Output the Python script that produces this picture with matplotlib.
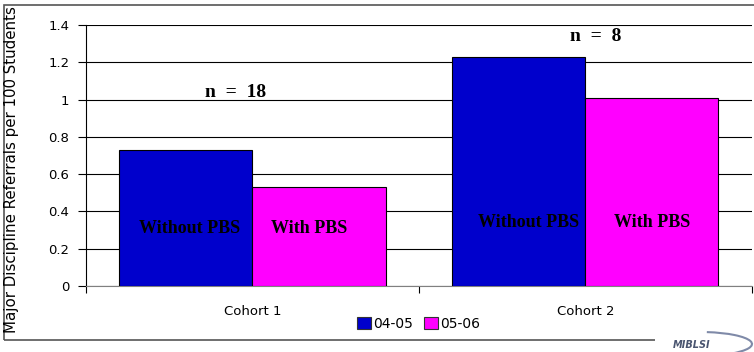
import matplotlib.pyplot as plt
import matplotlib.patches as patches
import numpy as np

cohorts = ["Cohort 1", "Cohort 2"]
years = ["04-05", "05-06"]
referrals_0405 = [0.73, 1.23]
referrals_0506 = [0.53, 1.01]
n_labels = ["n  =  18", "n  =  8"]
bar_labels = ["Without PBS", "With PBS"]

blue = "#0000CC"
magenta = "#FF00FF"

fig = plt.figure(figsize=(7.54, 3.52), dpi=100)
ax = fig.add_axes([0.114, 0.1875, 0.883, 0.7415])

x = np.arange(len(cohorts))
w = 0.4
ax.bar(x - w / 2, referrals_0405, w, color=blue, edgecolor="black", linewidth=0.8,
       label=years[0], zorder=3)
ax.bar(x + w / 2, referrals_0506, w, color=magenta, edgecolor="black", linewidth=0.8,
       label=years[1], zorder=3)

ax.set_xlim(-0.5, 1.5)
ax.set_ylim(0, 1.4)
ax.set_yticks(np.arange(0, 1.41, 0.2))
ax.set_yticklabels(["0", "0.2", "0.4", "0.6", "0.8", "1", "1.2", "1.4"])
ax.yaxis.grid(True, color="black", linewidth=0.8, zorder=0)
ax.set_axisbelow(True)

# category ticks sit on the boundaries, labels in the middle
ax.set_xticks([-0.5, 0.5, 1.5])
ax.set_xticklabels([])
ax.set_xticks(x, minor=True)
ax.set_xticklabels(cohorts, minor=True)
ax.tick_params(axis="x", which="minor", length=0, pad=14, labelsize=9.5)
ax.tick_params(axis="x", which="major", length=5, direction="out")
ax.tick_params(axis="y", length=6, direction="out", labelsize=9.5, pad=6)

for s in ["top", "right"]:
    ax.spines[s].set_visible(False)
ax.spines["bottom"].set_color("#808080")

fig.text(12 / 754, 1 - 170 / 352, "Major Discipline Referrals per 100 Students",
         rotation=90, ha="center", va="center", fontsize=10.8)

# annotations inside bars
serif = dict(family="Liberation Serif", fontweight="bold")
label_pos = [(-0.19, 0.31), (0.17, 0.31), (0.83, 0.34), (1.2, 0.34)]
for i, (lx, ly) in enumerate(label_pos):
    ax.text(lx, ly, bar_labels[i % 2], ha="center", va="center", fontsize=13,
            zorder=4, **serif)

ax.text(-0.05, 1.04, n_labels[0], ha="center", va="center", fontsize=14, **serif)
ax.text(1.03, 1.34, n_labels[1], ha="center", va="center", fontsize=14, **serif)

leg = ax.legend(loc="center", bbox_to_anchor=(0.5, -0.146), ncol=2, frameon=False,
                fontsize=10, handlelength=0.95, handleheight=0.95, handletextpad=0.2,
                columnspacing=0.8, borderpad=0)
for h in leg.legend_handles:
    h.set_edgecolor("#333333")

# outer frame around chart
fig.add_artist(patches.Rectangle((4 / 754, 12 / 352), 760 / 754, 335 / 352,
                                 transform=fig.transFigure, fill=False,
                                 edgecolor="#555555", linewidth=1.2))

# logo in the lower right corner
fig.add_artist(patches.Rectangle((655 / 754, 0), 100 / 754, 20 / 352,
                                 transform=fig.transFigure, facecolor="white",
                                 edgecolor="none", zorder=5))
fig.text(692 / 754, 7 / 352, "MIBLSI", fontsize=7, fontstyle="italic",
         fontweight="bold", color="#4a5570", ha="center", va="center", zorder=6)
fig.add_artist(patches.Arc((700 / 754, 8 / 352), 104 / 754, 24 / 352, theta1=-35,
                           theta2=75, transform=fig.transFigure, color="#7f8aa8",
                           linewidth=1.5, zorder=6))

fig.savefig("out.png", dpi=100)
